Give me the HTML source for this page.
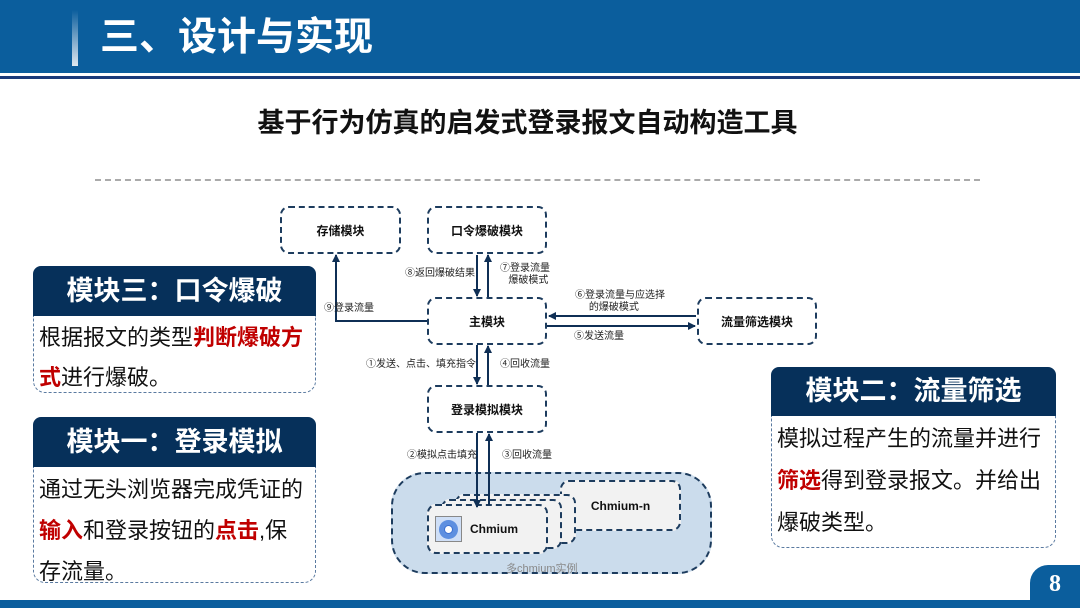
<!DOCTYPE html>
<html><head><meta charset="utf-8"><style>
*{margin:0;padding:0;box-sizing:border-box}
body{width:1080px;height:608px;position:relative;overflow:hidden;background:#fff;font-family:"Liberation Sans","Noto Sans CJK SC",sans-serif}
.a{position:absolute}
.ph{position:absolute;background:#06305a;color:#fff;font-weight:bold;font-size:27px;text-align:center;border-radius:8px 8px 0 0}
.pb{position:absolute;border:1.5px dashed #5a7aa0;border-top:none;border-radius:0 0 12px 12px;font-size:22px;line-height:40px;color:#111;padding:4px 5px;white-space:nowrap}
.r{color:#c00000;font-weight:bold}
.bx{position:absolute;border:2.5px dashed #1d3c5e;border-radius:9px;display:flex;align-items:center;justify-content:center;font-size:12px;font-weight:bold;color:#111}
.l{position:absolute;font-size:10px;color:#222;line-height:12px}
</style></head><body>
<div class="a" style="left:0;top:0;width:1080px;height:73px;background:#0b5e9d"></div>
<div class="a" style="left:0;top:76px;width:1080px;height:3px;background:#1a3a7a"></div>
<div class="a" style="left:72px;top:10px;width:6px;height:56px;background:linear-gradient(#0b5e9d,#dfe8f0)"></div>
<div class="a" style="left:100px;top:13px;color:#fff;font-size:39px;font-weight:bold;line-height:50px">三、设计与实现</div>
<div class="a" style="left:0;width:1055px;top:106px;text-align:center;font-size:27px;font-weight:bold;line-height:34px;color:#111">基于行为仿真的启发式登录报文自动构造工具</div>
<div class="a" style="left:95px;top:179px;width:885px;border-top:2px dashed #aaa"></div>

<div class="ph" style="left:33px;top:266px;width:283px;height:50px;line-height:50px">模块三：口令爆破</div>
<div class="pb" style="left:33px;top:316px;width:283px;height:77px;padding-top:2px">根据报文的类型<span class="r">判断爆破方</span><br><span class="r">式</span>进行爆破。</div>
<div class="ph" style="left:33px;top:417px;width:283px;height:50px;line-height:50px">模块一：登录模拟</div>
<div class="pb" style="left:33px;top:467px;width:283px;height:116px;line-height:41px;padding-top:2px">通过无头浏览器完成凭证的<br><span class="r">输入</span>和登录按钮的<span class="r">点击</span>,保<br>存流量。</div>
<div class="ph" style="left:771px;top:367px;width:285px;height:49px;line-height:49px">模块二：流量筛选</div>
<div class="pb" style="left:771px;top:416px;width:285px;height:132px;line-height:42px;padding-top:2px">模拟过程产生的流量并进行<br><span class="r">筛选</span>得到登录报文。并给出<br>爆破类型。</div>

<div class="a" style="left:0;top:600px;width:1080px;height:8px;background:#0b5e9d"></div>
<div class="a" style="left:1030px;top:565px;width:50px;height:36px;background:#0b5e9d;border-radius:18px 0 0 0;color:#fff;font:bold 24px 'Liberation Serif',serif;text-align:center;line-height:38px">8</div>

<div class="a" style="left:391px;top:472px;width:321px;height:102px;background:#cbdcec;border:2.5px dashed #1d3c5e;border-radius:34px"></div>
<div class="bx" style="left:560px;top:480px;width:121px;height:51px;background:#f2f2f2">Chmium-n</div>
<div class="bx" style="left:455px;top:494px;width:121px;height:50px;background:#f2f2f2"></div>
<div class="bx" style="left:441px;top:499px;width:121px;height:50px;background:#f2f2f2"></div>
<div class="bx" style="left:427px;top:504px;width:121px;height:50px;background:#f2f2f2;justify-content:flex-start;padding-left:6px"><span style="display:inline-block;width:27px;height:26px;border:1px solid #888;background:#cfdff7;margin-right:8px;position:relative"><span style="position:absolute;left:3px;top:3px;width:19px;height:19px;border-radius:50%;background:#5d8fe0"></span><span style="position:absolute;left:8px;top:8px;width:9px;height:9px;border-radius:50%;background:#fff;border:1.5px solid #3a6fd0"></span></span>Chmium</div>
<div class="a" style="left:506px;top:560px;font-size:11px;color:#888">多chmium实例</div>

<div class="bx" style="left:280px;top:206px;width:121px;height:48px">存储模块</div>
<div class="bx" style="left:427px;top:206px;width:120px;height:48px">口令爆破模块</div>
<div class="bx" style="left:427px;top:297px;width:120px;height:48px">主模块</div>
<div class="bx" style="left:697px;top:297px;width:120px;height:48px">流量筛选模块</div>
<div class="bx" style="left:427px;top:385px;width:120px;height:48px">登录模拟模块</div>

<svg class="a" style="left:0;top:0" width="1080" height="608">
<defs><marker id="m" markerWidth="8" markerHeight="8" refX="7" refY="4" orient="auto" markerUnits="userSpaceOnUse"><path d="M0,0L8,4L0,8z" fill="#0f2f55"/></marker></defs>
<g stroke="#0f2f55" stroke-width="2" fill="none" marker-end="url(#m)">
<line x1="477" y1="255" x2="477" y2="296"/>
<line x1="488" y1="297" x2="488" y2="255"/>
<line x1="477" y1="345" x2="477" y2="384"/>
<line x1="488" y1="385" x2="488" y2="346"/>
<line x1="477" y1="433" x2="477" y2="507"/>
<line x1="489" y1="505" x2="489" y2="434"/>
<line x1="696" y1="316" x2="549" y2="316"/>
<line x1="547" y1="326" x2="695" y2="326"/>
<polyline points="427,321 336,321 336,255"/>
</g></svg>
<div class="l" style="left:405px;top:268px">⑧返回爆破结果</div>
<div class="l" style="left:500px;top:263px">⑦登录流量<br>&nbsp;&nbsp;&nbsp;爆破模式</div>
<div class="l" style="left:324px;top:303px">⑨登录流量</div>
<div class="l" style="left:575px;top:290px">⑥登录流量与应选择<br>&nbsp;&nbsp;&nbsp;&nbsp;&nbsp;的爆破模式</div>
<div class="l" style="left:574px;top:331px">⑤发送流量</div>
<div class="l" style="left:366px;top:359px">①发送、点击、填充指令</div>
<div class="l" style="left:500px;top:359px">④回收流量</div>
<div class="l" style="left:407px;top:450px">②模拟点击填充</div>
<div class="l" style="left:502px;top:450px">③回收流量</div>
</body></html>
